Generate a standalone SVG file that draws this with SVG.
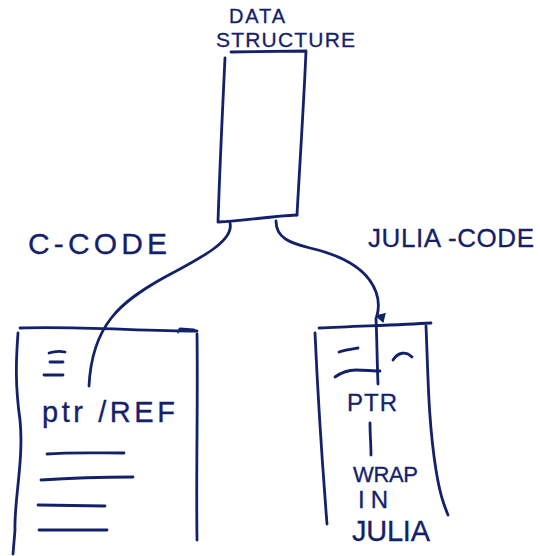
<svg xmlns="http://www.w3.org/2000/svg" width="540" height="556" viewBox="0 0 540 556">
  <style>
    .ink { fill: none; stroke: #13216b; stroke-width: 2.8; stroke-linecap: round; stroke-linejoin: round; }
    .hand { font-family: "Liberation Sans", "DejaVu Sans", sans-serif; fill: #13216b; stroke: #13216b; stroke-width: 0.3; }
  </style>
  <defs>
    <marker id="tip" viewBox="0 0 10 10" refX="5" refY="8" markerWidth="4" markerHeight="4" orient="auto">
      <path d="M1,1 L5,9 L9,1" fill="#13216b" stroke="#13216b" stroke-width="1"/>
    </marker>
  </defs>
  <rect width="540" height="556" fill="#ffffff"/>

  <!-- shared data structure -->
  <g id="data-structure">
    <text class="hand" x="229" y="23" font-size="20" textLength="56" lengthAdjust="spacing">DATA</text>
    <text class="hand" x="216" y="47" font-size="21" textLength="139" lengthAdjust="spacing">STRUCTURE</text>
    <path class="ink" d="M231,52 L306,51 C304,100 300,160 297,215"/>
    <path class="ink" d="M225,58 C223,100 220,160 218,222 C245,221 270,216 297,215"/>
  </g>

  <!-- C side -->
  <g id="c-code">
    <text class="hand" x="28" y="254" font-size="30" textLength="139" lengthAdjust="spacing">C-CODE</text>
    <path class="ink" d="M20,328 C80,326 140,331 197,331 M178,332 L180,329 L194,330"/>
    <path class="ink" d="M18,333 C16,360 15,385 20,420 C24,460 14,500 15,530 L13,554"/>
    <path class="ink" d="M197,334 C198,400 196,470 197,540"/>
    <path class="ink" d="M49,353 C55,351 60,351 65,352 M50,362 L63,362 M44,375 L63,375"/>
    <text class="hand" x="42" y="422" font-size="29" textLength="133" lengthAdjust="spacing">ptr /REF</text>
    <path class="ink" d="M47,454 C70,452 100,453 124,453 M41,480 C70,478 110,477 133,477 M38,505 L105,506 M39,530 L107,530"/>
  </g>

  <!-- Julia side -->
  <g id="julia-code">
    <text class="hand" x="368" y="247" font-size="26" textLength="166" lengthAdjust="spacing">JULIA -CODE</text>
    <path class="ink" d="M319,328 C360,326 400,325 431,323"/>
    <path class="ink" d="M315,333 C318,400 322,460 327,524"/>
    <path class="ink" d="M426,326 C428,370 428,420 436,470 C440,495 444,505 448,515"/>
    <path class="ink" d="M339,352 C345,350 352,349 358,348"/>
    <path class="ink" d="M393,360 C398,352 406,351 412,357"/>
    <path class="ink" d="M335,377 C342,372 350,370 356,370 C365,370 372,371 380,371"/>
    <text class="hand" x="347" y="411" font-size="24" textLength="50" lengthAdjust="spacing">PTR</text>
    <path class="ink" d="M370,423 C370,435 371,445 371,455"/>
    <text class="hand" x="353" y="482" font-size="22" textLength="65" lengthAdjust="spacing">WRAP</text>
    <text class="hand" x="358" y="508" font-size="24" letter-spacing="6">IN</text>
    <text class="hand" x="352" y="541" font-size="29" textLength="78" lengthAdjust="spacing">JULIA</text>
  </g>

  <!-- connectors -->
  <g id="connectors">
    <path class="ink" d="M230,223 C234,240 205,256 165,277 C120,302 92,325 89,386"/>
    <path class="ink" d="M276,221 C276,238 290,243 310,248 C345,256 368,270 376,292 C379,300 379,308 377,316" marker-end="url(#tip)"/>
    <path class="ink" d="M376,318 C377,340 377,360 378,384"/>
  </g>
</svg>
